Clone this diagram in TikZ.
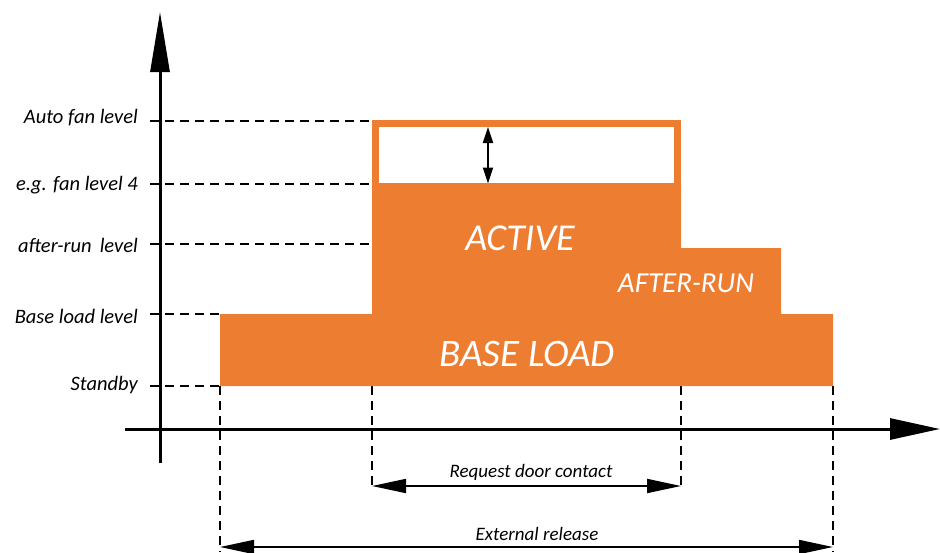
\documentclass[tikz,border=0pt]{standalone}
\usepackage{fontspec}
\setmainfont{Carlito}
\usetikzlibrary{arrows.meta}
\definecolor{orng}{HTML}{ED7D31}
\begin{document}
\begin{tikzpicture}[x=1pt,y=-1pt,
  lvl/.style={font=\fontsize{20.5}{24}\selectfont\itshape, anchor=east, inner sep=0pt},
  guide/.style={draw=black, line width=1.8pt, dash pattern=on 9pt off 6pt},
  axisline/.style={line width=3pt, -{Triangle[length=60pt,width=19pt]}},
  xaxisline/.style={line width=3pt, -{Triangle[length=50pt,width=21pt]}},
  dimline/.style={line width=1.8pt, {Triangle[length=34pt,width=14pt]}-{Triangle[length=34pt,width=14pt]}},
  smalldim/.style={line width=1.8pt, {Triangle[length=16pt,width=10pt]}-{Triangle[length=16pt,width=10pt]}},
  dimlabel/.style={font=\fontsize{19}{22}\selectfont\itshape, inner sep=0pt},
  phase/.style={text=white, font=\itshape, inner sep=0pt}]
\useasboundingbox (0,0) rectangle (940,552);

% named coordinates
\coordinate (s0) at (220,386); \coordinate (s1) at (833,386);
\coordinate (a0) at (372,386); \coordinate (a1) at (681,386);

% guides
\draw[guide] (150,121) -- (372,121);
\draw[guide] (150,184) -- (372,184);
\draw[guide] (150,244) -- (372,244);
\draw[guide] (150,314) -- (220,314);
\draw[guide] (150,386) -- (220,386);
\draw[guide] (s0) -- (220,552);
\draw[guide] (a0) -- (372,490);
\draw[guide] (a1) -- (681,490);
\draw[guide] (s1) -- (833,552);

% orange profile
\fill[orng] (220,386) -- (220,314) -- (372,314) -- (372,184) -- (681,184) -- (681,248)
  -- (781,248) -- (781,314) -- (833,314) -- (833,386) -- cycle;
\fill[orng] (372,120) rectangle (681,184.5);
\fill[white] (379,127) rectangle (674,183);
\draw[smalldim] (488,127) -- (488,183.5);

% axes
\draw[axisline] (160,463) -- (160,12);
\draw[xaxisline] (125,429) -- (940,429);

% level labels
\node[lvl] (l1) at (138,118) {Auto fan level};
\node[lvl] (l2) at (138,185) {e.g. fan level 4};
\node[lvl] (l3) at (138,245) {after-run\, level};
\node[lvl] (l4) at (138,316) {Base load level};
\node[lvl] (l5) at (138,385) {Standby};

% phase labels
\node[phase, font=\fontsize{38}{40}\selectfont\itshape] (act) at (520,238) {ACTIVE};
\node[phase, font=\fontsize{29}{32}\selectfont\itshape] (aft) at (686,283) {AFTER-RUN};
\node[phase, font=\fontsize{39}{42}\selectfont\itshape] (base) at (527,354) {BASE LOAD};

% durations
\coordinate (r0) at (372,486); \coordinate (r1) at (681,486);
\coordinate (e0) at (220,547); \coordinate (e1) at (833,547);
\draw[dimline] (r0) -- (r1);
\draw[dimline] (e0) -- (e1);
\node[dimlabel] (rq) at (531,472) {Request door contact};
\node[dimlabel] (ex) at (537,534) {External release};
\end{tikzpicture}
\end{document}
